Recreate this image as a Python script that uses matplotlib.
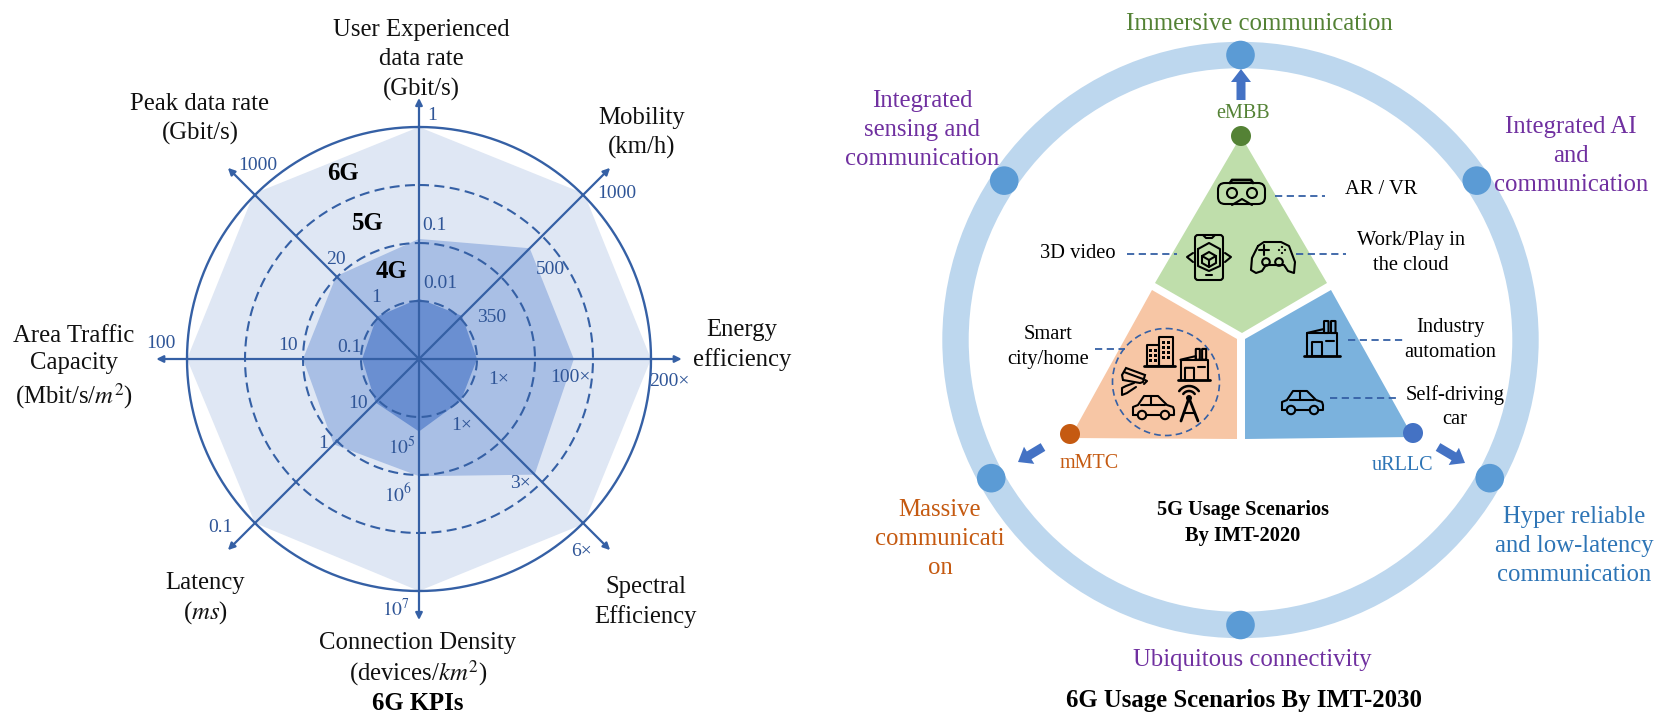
import numpy as np
import matplotlib
matplotlib.use("Agg")
import matplotlib.pyplot as plt
from matplotlib.patches import Circle, Polygon, Rectangle, FancyBboxPatch, FancyArrow

plt.rcParams['font.family'] = ['Liberation Serif', 'DejaVu Serif']
plt.rcParams['mathtext.fontset'] = 'stix'

# KPI radar, values in ring units (1 = 4G ring ... 4 = 6G ring)
axis_angles = [0, 45, 90, 135, 180, 225, 270, 315]
values_6g = [4.0, 4.03, 4.0, 4.02, 4.0, 4.0, 4.0, 4.03]
values_5g = [2.07, 2.7, 2.67, 2.82, 2.02, 2.08, 2.0, 2.02]
values_4g = [1.04, 1.05, 1.0, 1.02, 1.25, 1.06, 0.98, 1.03]
ring_levels = [1, 2, 3]
axis_lengths = [4.5, 4.66, 4.53, 4.66]

kpi_names = ["User Experienced\ndata rate\n(Gbit/s)", "Peak data rate\n(Gbit/s)", "Mobility\n(km/h)",
             "Energy\nefficiency", "Spectral\nEfficiency", "Connection Density\n(devices/$km^2$)",
             "Latency\n($ms$)", "Area Traffic\nCapacity\n(Mbit/s/$m^2$)"]
kpi_xy = [(421, 60), (200, 119), (642, 133), (742, 345), (646, 602), (418, 660), (205, 599), (74, 368)]
kpi_gaps = [31.5, 31.5, 31.5, 31.5, 31.5, 27, 28, 29]

tick_labels = ["1", "0.1", "0.01", "1000", "500", "350", "200×", "100×", "1×", "6×", "3×", "1×",
               "$10^7$", "$10^6$", "$10^5$", "0.1", "1", "10", "100", "10", "0.1", "1000", "20", "1"]
tick_xy = [(432, 115), (434, 226), (440, 284), (617, 194), (550, 269), (492, 317), (669, 382), (570, 377),
           (499, 379), (582, 552), (520, 484), (462, 426), (396, 609), (398, 494), (402, 447), (220, 528),
           (323, 444), (358, 404), (161, 344), (288, 346), (349, 348), (258, 166), (336, 259), (376, 297)]

gen_labels = ["6G", "5G", "4G"]
gen_xy = [(343, 174), (368, 223), (392, 272)]

# usage scenario diagram
node_angles = [90, 34, -29, -90, 209, 146]
scenario_names = ["Immersive communication", "Integrated AI\nand\ncommunication",
                  "Hyper reliable\nand low-latency\ncommunication", "Ubiquitous connectivity",
                  "Massive\ncommunicati\non", "Integrated\nsensing and\ncommunication"]
scenario_xy = [(1259, 24), (1571, 156), (1574, 546), (1252, 660), (940, 539), (922, 130)]
scenario_colors = ["#548235", "#7030a0", "#2e75b6", "#7030a0", "#c55a11", "#7030a0"]

inner_labels = ["AR / VR", "Work/Play in\nthe cloud", "3D video", "Smart\ncity/home",
                "Industry\nautomation", "Self-driving\ncar"]
inner_xy = [(1381, 190), (1411, 253), (1078, 254), (1048, 347), (1450, 340), (1455, 407)]
leaders = [(1275, 1325, 196), (1127, 1177, 254), (1296, 1346, 254),
           (1095, 1125, 349), (1348, 1405, 340), (1330, 1397, 398)]

AXIS_BLUE = "#3560a5"
TICK_BLUE = "#2f5597"
UNIT_PX = 58.0
RMAX = 4.8
BIG = 17.8


def spacing(px, fs):
    # line spacing for a wanted baseline distance in pixels
    return px / (1.23 * fs)


fig = plt.figure(figsize=(16.61, 7.2), dpi=100)

# radar, in a polar axes sized so one ring unit is 58 px
half = RMAX * UNIT_PX
ax = fig.add_axes([(419 - half) / 1661, 1 - (359 + half) / 720, 2 * half / 1661, 2 * half / 720],
                  projection='polar')
ax.set_theta_zero_location('N')
ax.set_theta_direction(-1)
ax.set_ylim(0, RMAX)
ax.axis('off')

theta = np.deg2rad(axis_angles + [360])
for vals, col in [(values_6g, "#dfe7f4"), (values_5g, "#a9bfe5"), (values_4g, "#6a8fd1")]:
    ax.fill(theta, vals + vals[:1], color=col, lw=0)

circle_t = np.linspace(0, 2 * np.pi, 361)
for level in ring_levels:
    ax.plot(circle_t, np.full(361, level), color=AXIS_BLUE, lw=1.5, ls=(0, (4.8, 2.6)))
ax.plot(circle_t, np.full(361, 4), color=AXIS_BLUE, lw=1.7)

for ang, length in zip(axis_angles[:4], axis_lengths):
    t = np.deg2rad(ang)
    ax.annotate('', xy=(t, length), xytext=(t + np.pi, length),
                arrowprops=dict(arrowstyle='<|-|>', color=AXIS_BLUE, lw=1.6, shrinkA=0, shrinkB=0,
                                mutation_scale=10))

# overlay in pixel coordinates for the texts and the diagram
ov = fig.add_axes([0, 0, 1, 1])
ov.set_xlim(0, 1661)
ov.set_ylim(720, 0)
ov.axis('off')
ov.patch.set_alpha(0)

for name, (x, y), gap in zip(kpi_names, kpi_xy, kpi_gaps):
    ov.text(x, y, name, ha='center', va='center', fontsize=BIG, color='#111111',
            linespacing=spacing(gap, BIG))
for lab, (x, y) in zip(tick_labels, tick_xy):
    ov.text(x, y, lab, ha='center', va='center', fontsize=14, color=TICK_BLUE)
for lab, (x, y) in zip(gen_labels, gen_xy):
    ov.text(x, y, lab, ha='center', va='center', fontsize=BIG, fontweight='bold', color='black')
ov.text(418, 704, "6G KPIs", ha='center', va='center', fontsize=BIG, fontweight='bold')

# outer ring and its nodes
cx, cy, ring_r = 1240.5, 340, 285
ov.add_patch(Circle((cx, cy), ring_r, fill=False, ec="#bdd7ee", lw=19))
for ang in node_angles:
    a = np.deg2rad(ang)
    ov.add_patch(Circle((cx + ring_r * np.cos(a), cy - ring_r * np.sin(a)), 14.3, fc="#5b9bd5", ec='none', zorder=3))
for name, (x, y), col in zip(scenario_names, scenario_xy, scenario_colors):
    ov.text(x, y, name, ha='center', va='center', fontsize=BIG, color=col,
            linespacing=spacing(31.5, BIG), zorder=4)
ov.text(1244, 700, "6G Usage Scenarios By IMT-2030", ha='center', va='center', fontsize=BIG, fontweight='bold')
ov.text(1243, 523, "5G Usage Scenarios\nBy IMT-2020", ha='center', va='center', fontsize=14.7, fontweight='bold',
        linespacing=spacing(24.5, 14.7))

# triangle segments
ov.add_patch(Polygon([(1241, 136), (1155, 283), (1242, 333), (1327, 283)], fc="#bfdeab", ec='none'))
ov.add_patch(Polygon([(1152, 290), (1237, 339), (1237, 439), (1070, 438)], fc="#f7c6a5", ec='none'))
ov.add_patch(Polygon([(1331, 290), (1245, 339), (1245, 439), (1413, 437)], fc="#7bb2dd", ec='none'))
for (x, y), col, lab, (lx, ly), lcol in [
        ((1241, 136), "#548235", "eMBB", (1243, 114), "#548235"),
        ((1070, 434), "#c55a11", "mMTC", (1089, 463), "#c55a11"),
        ((1413, 433), "#4472c4", "uRLLC", (1402, 466), "#2e75b6")]:
    ov.add_patch(Circle((x, y), 10, fc=col, ec='none', zorder=3))
    ov.text(lx, ly, lab, ha='center', va='center', fontsize=14.5, color=lcol)

# block arrows
for x0, y0, x1, y1 in [(1241, 100, 1241, 69), (1043, 447, 1018, 462), (1438, 447, 1465, 463)]:
    ov.add_patch(FancyArrow(x0, y0, x1 - x0, y1 - y0, width=9, head_width=20, head_length=13,
                            length_includes_head=True, fc="#4472c4", ec='none', zorder=3))

for lab, (x, y) in zip(inner_labels, inner_xy):
    ov.text(x, y, lab, ha='center', va='center', fontsize=14.8, linespacing=spacing(25, 14.8))
for x0, x1, y in leaders:
    ov.plot([x0, x1], [y, y], color=AXIS_BLUE, lw=1.3, ls=(0, (4, 2.5)))
ov.add_patch(Circle((1166, 382), 53.5, fill=False, ec=AXIS_BLUE, lw=1.2, ls=(0, (4, 2.5))))


# icons, drawn from simple shapes around a centre point
LW = 1.5


def line(xs, ys, lw=LW):
    ov.plot(xs, ys, color='black', lw=lw, solid_capstyle='round', solid_joinstyle='round')


def box(x, y, w, h, pad=1.5):
    ov.add_patch(FancyBboxPatch((x, y), w, h, boxstyle="round,pad=0,rounding_size=%g" % pad,
                                fc='none', ec='black', lw=LW))


def ring(x, y, r):
    ov.add_patch(Circle((x, y), r, fc='none', ec='black', lw=LW))


def car(x, y, s=1.0):
    xs = np.array([-20, -20, -15, -9, 5, 14, 20, 21, 21, -20])
    ys = np.array([9, 1, -1, -10, -10, -1, 1, 4, 9, 9])
    line(x + s * xs, y + s * ys)
    line([x - 12 * s, x + 12 * s], [y - 1 * s, y - 1 * s])
    line([x - 2 * s, x - 2 * s], [y - 10 * s, y - 1 * s])
    for dx in (-11, 12):
        ov.add_patch(Circle((x + dx * s, y + 9 * s), 4.2 * s, fc='#f7c6a5' if x < 1200 else '#7bb2dd',
                            ec='black', lw=LW, zorder=3))


def factory(x, y, s=1.0):
    line(x + s * np.array([-15, -15, 15, 15]), y + s * np.array([16, -7, -7, 16]))
    line([x - 18 * s, x + 18 * s], [y + 16 * s, y + 16 * s], lw=2)
    line(x + s * np.array([-15, 2, 2]), y + s * np.array([-7, -11, -7]))
    for dx in (2, 9):
        box(x + dx * s, y - 19 * s, 4.5 * s, 12 * s, pad=0.5)
    box(x - 10 * s, y + 2 * s, 10 * s, 14 * s, pad=0.3)
    line([x + 4 * s, x + 12 * s], [y + 1 * s, y + 1 * s])


# VR headset
box(1218, 183, 47, 21, pad=7)
line([1230, 1232, 1251, 1253], [183, 180, 180, 183], lw=2)
ring(1232, 193, 5)
ring(1252, 193, 5)
line([1232, 1242, 1252], [205, 199, 205])

# phone
box(1195, 235, 28, 45, pad=3)
line([1203, 1206, 1212, 1215], [235, 238, 238, 235])
line([1206, 1212], [275, 275])
line([1193, 1187, 1193], [253, 257, 262])
line([1225, 1231, 1225], [253, 257, 262])
line([1198, 1209, 1220, 1220, 1209, 1198, 1198], [249, 243, 249, 266, 271, 266, 249])
ov.add_patch(Polygon([(1209, 252), (1216, 256), (1216, 263), (1209, 267), (1202, 263), (1202, 256)],
                     fc='none', ec='black', lw=LW))
line([1202, 1209, 1216], [256, 260, 256])
line([1209, 1209], [260, 267])

# gamepad
line([1258, 1252, 1251, 1256, 1262, 1266, 1284, 1288, 1294, 1295, 1289, 1281, 1264, 1258],
     [246, 258, 270, 273, 271, 265, 265, 271, 273, 262, 246, 242, 242, 246])
line([1259, 1269], [250, 250])
line([1264, 1264], [245, 255])
ring(1266, 262, 3.8)
ring(1279, 262, 3.8)
for dx, dy in [(0, -3), (3, 0), (0, 3), (-3, 0)]:
    ov.add_patch(Circle((1282 + dx, 250 + dy), 1.1, fc='black', ec='none'))

factory(1322, 340)
car(1302, 401)

# smart city icons
box(1147, 345, 12, 21, pad=0.3)
box(1159, 337, 14, 29, pad=0.3)
line([1144, 1175], [366, 366], lw=2)
for gx in (1150.5, 1155.5):
    for gy in (350, 355, 360):
        ov.add_patch(Rectangle((gx - 1.5, gy - 1.5), 3, 3, fc='black', ec='none'))
for gx in (1163.5, 1168.5):
    for gy in (342, 347, 352, 357):
        ov.add_patch(Rectangle((gx - 1.5, gy - 1.5), 3, 3, fc='black', ec='none'))
factory(1194, 366, 0.9)

# camera
ov.add_patch(Polygon([(1122, 375), (1126, 368), (1145, 375), (1143, 382), (1140, 383), (1123, 380)],
                     fc='none', ec='black', lw=LW))
line([1124, 1143], [372, 379])
line([1145, 1147, 1144], [380, 381, 384])
line([1134, 1126, 1122, 1122, 1127, 1136], [383, 386, 388, 395, 393, 387])

car(1153, 406, 1.0)

# tower
line([1181, 1189, 1198], [421, 398, 421], lw=2)
line([1184, 1195], [413, 413])
ov.add_patch(Circle((1189, 398), 3, fc='black', ec='none'))
theta_arc = np.deg2rad(np.arange(35, 146, 10))
for r in (7, 12):
    line(1189 + r * np.cos(theta_arc), 398 - r * np.sin(theta_arc), lw=1.8)

fig.savefig("out.png", dpi=100)
